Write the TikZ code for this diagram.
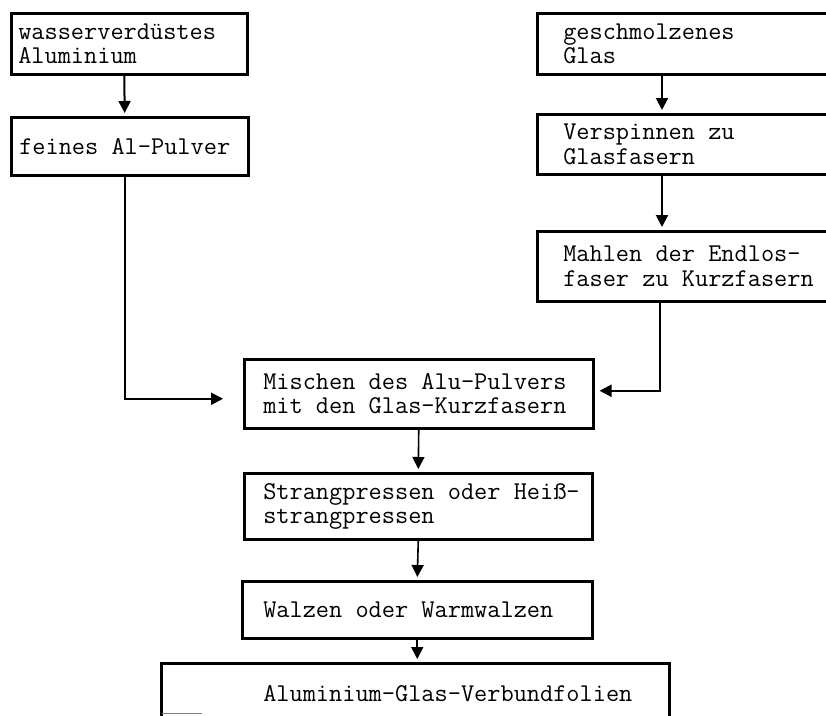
\documentclass[tikz,border=0pt]{standalone}
\usepackage{fontspec}
\usetikzlibrary{arrows.meta}

\begin{document}
\begin{tikzpicture}[x=1pt,y=-1pt,
  stage/.style={draw, line width=2.5pt, anchor=north west, align=flush left, inner ysep=0pt,
    font=\ttfamily\fontsize{25.6}{24.5}\selectfont},
  flow/.style={line width=2pt, -{Triangle[width=12pt,length=12pt]}, shorten >=3pt}]
\useasboundingbox (0,0) rectangle (826,715);
\clip (0,0) rectangle (826,715);
\fill[white] (0,0) rectangle (826,715);
% left column
\node[stage, minimum height=61pt, inner xsep=7pt, text width=222pt] (wasser) at (10,12) {wasserverdüstes\\Aluminium};
\node[stage, minimum height=58pt, inner xsep=8pt, text width=221pt] (pulver) at (10,116) {feines Al-Pulver};
% right column
\node[stage, minimum height=61pt, inner xsep=26pt, text width=288pt] (glas) at (536,12) {geschmolzenes\\Glas};
\node[stage, minimum height=60pt, inner xsep=26pt, text width=288pt] (spinn) at (536,113) {Verspinnen zu\\Glasfasern};
\node[stage, minimum height=70pt, inner xsep=26pt, text width=288pt] (mahl) at (536,230) {Mahlen der Endlos-\\faser zu Kurzfasern};
% main line
\node[stage, minimum height=69pt, inner xsep=19pt, text width=311pt] (misch) at (243,358) {Mischen des Alu-Pulvers\\mit den Glas-Kurzfasern};
\node[stage, minimum height=66pt, inner xsep=19pt, text width=310pt] (strang) at (243,472) {\mbox{Strangpressen oder Heiß-}\\strangpressen};
\node[stage, minimum height=57pt, inner xsep=21pt, text width=308pt] (walz) at (241,580) {Walzen oder Warmwalzen};
\node[stage, minimum height=60pt, inner xsep=102pt, text width=304pt] (folie) at (160,662) {\mbox{Aluminium-Glas-Verbundfolien}};
\draw[gray, line width=0.8pt] (162,713) -- (202,713);
% connectors
\draw[flow] ([xshift=-5pt]wasser.south) -- ([xshift=-5pt]pulver.north);
\draw[flow, shorten >=20pt] ([xshift=-5pt]pulver.south) |- ([yshift=-5pt]misch.west);
\draw[flow] ([xshift=126pt]glas.south west) -- ([xshift=126pt]spinn.north west);
\draw[flow] ([xshift=126pt]spinn.south west) -- ([xshift=126pt]mahl.north west);
\draw[flow, shorten >=5pt] ([xshift=124pt]mahl.south west) |- ([yshift=3pt]misch.east);
\draw[flow, line width=1.6pt] (misch.south) -- (strang.north);
\draw[flow, line width=1.6pt] (strang.south) -- (walz.north);
\draw[flow, line width=1.6pt] (walz.south) -- (walz.south |- folie.north);
\end{tikzpicture}
\end{document}
